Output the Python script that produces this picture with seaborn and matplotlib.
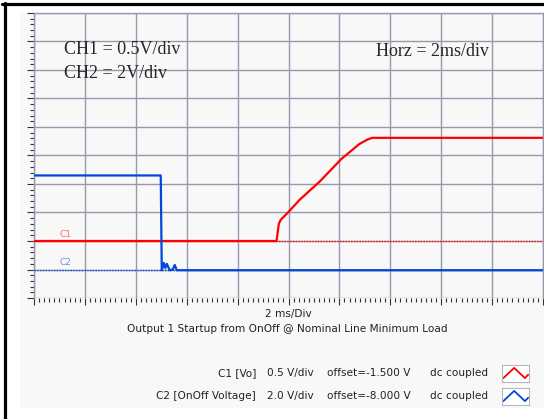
import matplotlib
matplotlib.use("Agg")
import matplotlib.pyplot as plt
from matplotlib.patches import Rectangle
from matplotlib.lines import Line2D
import seaborn as sns

# C1 [Vo] trace, time in ms, volts
c1_time = [0.0, 9.53, 9.62, 9.69, 10.0, 10.43, 11.22, 12.08, 12.78, 13.1, 13.29, 20.0]
c1_volts = [0.0, 0.0, 0.30, 0.37, 0.51, 0.72, 1.04, 1.44, 1.70, 1.78, 1.81, 1.81]

# C2 [OnOff Voltage] trace
c2_time = [0.0, 4.98, 5.02, 5.10, 5.16, 5.22, 5.33, 5.45, 5.53, 5.61, 5.75, 20.0]
c2_volts = [6.6, 6.6, -0.05, 0.46, 0.10, 0.40, -0.05, 0.0, 0.32, -0.05, -0.05, -0.05]

c1_scale, c1_offset = 0.5, -1.5   # V/div, V
c2_scale, c2_offset = 2.0, -8.0

legend_rows = [
    ("C1 [Vo]", "0.5 V/div", "offset=-1.500 V", "dc coupled"),
    ("C2 [OnOff Voltage]", "2.0 V/div", "offset=-8.000 V", "dc coupled"),
]
icon_x = [0.05, 0.45, 0.85, 0.97]
icon_y = [0.2, 0.8, 0.2, 0.4]

RED = "#ff0000"
BLUE = "#0048d8"
GRID = "#9a98ae"
PANEL = "#f8f8f8"

W, H = 544, 419


def px(x, y):
    return x / W, 1 - y / H


sns.set_style("white")
plt.rcParams["font.family"] = ["DejaVu Sans"]

fig = plt.figure(figsize=(W / 100, H / 100), dpi=100)
fig.patch.set_facecolor("white")

# grey panel and black frame
fig.patches.append(Rectangle(px(20, 408), (W - 20) / W, (408 - 13) / H,
                             transform=fig.transFigure, facecolor=PANEL,
                             edgecolor="none", zorder=-5))
fig.add_artist(Line2D([2 / W, 1], [1 - 4 / H, 1 - 4 / H], color="black", lw=2.3,
                      transform=fig.transFigure))
fig.add_artist(Line2D([5 / W, 5 / W], [0, 1 - 3 / H], color="black", lw=2.3,
                      transform=fig.transFigure))

left, right, top, bottom = 34, 543, 13, 298
ax = fig.add_axes([left / W, 1 - bottom / H, (right - left) / W, (bottom - top) / H])
ax.set_facecolor(PANEL)

# screen: 10 divisions each way, centre = offset
ax.set_xlim(0, 20)
ax.set_ylim(-c1_offset - 5 * c1_scale, -c1_offset + 5 * c1_scale)
ax.set_xticks([i * 2 for i in range(11)])
ax.set_xticks([i * 0.2 for i in range(101)], minor=True)
ax.set_yticks([-1.0 + i * 0.5 for i in range(11)])
ax.set_yticks([-1.0 + i * 0.1 for i in range(51)], minor=True)
ax.set_xticklabels([])
ax.set_yticklabels([])
ax.grid(True, which="major", color=GRID, lw=1.0)
ax.tick_params(which="both", direction="out", color="#333333", width=0.8,
               left=True, bottom=True)
ax.tick_params(which="major", length=5)
ax.tick_params(which="minor", length=3)
for s in ax.spines.values():
    s.set_color(GRID)
    s.set_linewidth(1.0)
ax.spines["bottom"].set_visible(False)

ax2 = ax.twinx()
ax2.set_ylim(-c2_offset - 5 * c2_scale, -c2_offset + 5 * c2_scale)
ax2.set_yticks([])
for s in ax2.spines.values():
    s.set_visible(False)

# ground markers
ax.axhline(0, color=RED, lw=1.0, ls=(0, (1, 1)), zorder=2)
ax2.axhline(0, color=BLUE, lw=1.0, ls=(0, (1, 1)), zorder=2)
ax.text(1.0, 0.04, "C1", color="#ff6a6a", fontsize=6.5, ha="left", va="bottom")
ax2.text(1.0, 0.2, "C2", color="#6f8fe8", fontsize=6.5, ha="left", va="bottom")

sns.lineplot(x=c2_time, y=c2_volts, ax=ax2, color=BLUE, lw=1.6,
             estimator=None, sort=False, zorder=3)
sns.lineplot(x=c1_time, y=c1_volts, ax=ax, color=RED, lw=1.6,
             estimator=None, sort=False, zorder=4)

# annotations on screen
serif = ["Liberation Serif", "DejaVu Serif"]
fig.text(*px(64, 50), "CH1 = 0.5V/div", family=serif, fontsize=13, va="center")
fig.text(*px(64, 73), "CH2 = 2V/div", family=serif, fontsize=13, va="center")
fig.text(*px(376, 51), "Horz = 2ms/div", family=serif, fontsize=13, va="center")

fs = 7.6
fig.text(*px(288, 314), "2 ms/Div", fontsize=fs, ha="center", va="center", color="#222222")
fig.text(*px(287, 329), "Output 1 Startup from OnOff @ Nominal Line Minimum Load",
         fontsize=fs, ha="center", va="center", color="#222222")

for row, yy, col in zip(legend_rows, [373, 396], [RED, BLUE]):
    name, vdiv, off, coup = row
    fig.text(*px(256, yy), name, fontsize=fs, ha="right", va="center", color="#222222")
    fig.text(*px(267, yy), vdiv, fontsize=fs, ha="left", va="center", color="#222222")
    fig.text(*px(327, yy), off, fontsize=fs, ha="left", va="center", color="#222222")
    fig.text(*px(488, yy), coup, fontsize=fs, ha="right", va="center", color="#222222")
    iax = fig.add_axes([502 / W, 1 - (yy + 8.5) / H, 27 / W, 17 / H])
    iax.set_facecolor("white")
    iax.plot(icon_x, icon_y, color=col, lw=1.3)
    iax.set_xlim(0, 1)
    iax.set_ylim(0, 1)
    iax.set_xticks([])
    iax.set_yticks([])
    for s in iax.spines.values():
        s.set_color("#b8b8b8")
        s.set_linewidth(0.8)

fig.savefig("out.png", dpi=100, facecolor="white")
